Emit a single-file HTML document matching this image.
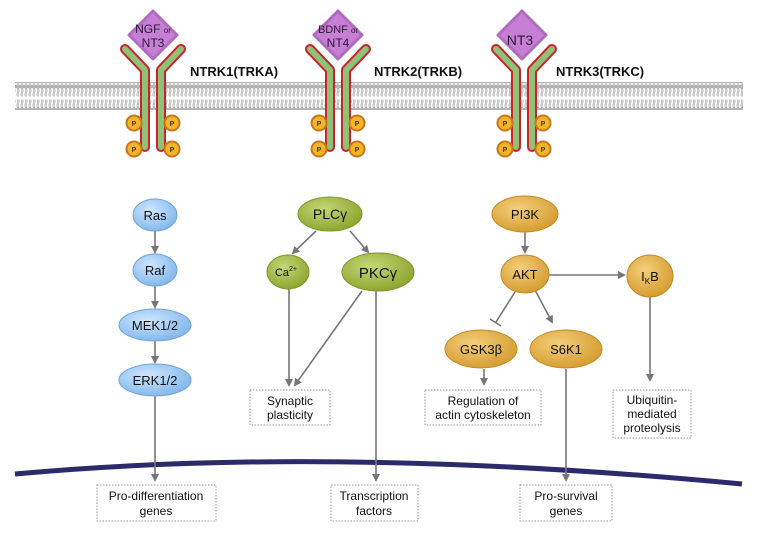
<!DOCTYPE html>
<html><head><meta charset="utf-8"><style>
body{margin:0;background:#fff;}
svg{display:block;font-family:"Liberation Sans",Arial,sans-serif;}
</style></head><body>
<svg width="758" height="537" viewBox="0 0 758 537" xmlns="http://www.w3.org/2000/svg">
<defs>
<pattern id="lip" x="0" y="0" width="4" height="28" patternUnits="userSpaceOnUse">
<circle cx="2" cy="2.5" r="2" fill="#b8b8b8" stroke="#999" stroke-width="0.4"/>
<path d="M1.4,4.5 q1,2 0,4 q-1,2 0,4 M2.6,4.5 q1,2 0,4 q-1,2 0,4" stroke="#a8a8a8" stroke-width="0.7" fill="none"/>
<path d="M1.4,15.5 q1,2 0,4 q-1,2 0,4 M2.6,15.5 q1,2 0,4 q-1,2 0,4" stroke="#a8a8a8" stroke-width="0.7" fill="none"/>
<circle cx="2" cy="25.5" r="2" fill="#b8b8b8" stroke="#999" stroke-width="0.4"/>
</pattern>
<marker id="ar" markerWidth="8" markerHeight="8" refX="6" refY="4" orient="auto" markerUnits="userSpaceOnUse">
<path d="M0,0 L8,4 L0,8 z" fill="#77757a"/>
</marker>
<radialGradient id="gb" cx="40%" cy="35%" r="70%"><stop offset="0" stop-color="#cfe6ff"/><stop offset="1" stop-color="#7fb5ea"/></radialGradient>
<radialGradient id="gg" cx="40%" cy="35%" r="70%"><stop offset="0" stop-color="#c6d676"/><stop offset="1" stop-color="#8aa32c"/></radialGradient>
<radialGradient id="go" cx="40%" cy="35%" r="70%"><stop offset="0" stop-color="#f3cf7a"/><stop offset="1" stop-color="#d49a2e"/></radialGradient>
<g id="rec">
<path d="M-28,-46 L-8,-25 L-8,52 M28,-46 L8,-25 L8,52" fill="none" stroke="#c8252b" stroke-width="10" stroke-linejoin="round" stroke-linecap="round"/>
<path d="M-28,-46 L-8,-25 L-8,52 M28,-46 L8,-25 L8,52" fill="none" stroke="#8fc177" stroke-width="6" stroke-linejoin="round" stroke-linecap="round"/>
<g font-size="7" font-weight="bold" text-anchor="middle" fill="#5a3000">
<circle cx="-19" cy="28" r="7.5" fill="#f1b52c" stroke="#c9771a" stroke-width="2"/><text x="-19" y="31">P</text>
<circle cx="19" cy="28" r="7.5" fill="#f1b52c" stroke="#c9771a" stroke-width="2"/><text x="19" y="31">P</text>
<circle cx="-19" cy="54" r="7.5" fill="#f1b52c" stroke="#c9771a" stroke-width="2"/><text x="-19" y="57">P</text>
<circle cx="19" cy="54" r="7.5" fill="#f1b52c" stroke="#c9771a" stroke-width="2"/><text x="19" y="57">P</text>
</g>
</g>
<path id="dia" d="M0,-24 L24,0 L0,24 L-24,0 Z" fill="#c77fd6" stroke="#b06ac2" stroke-width="3" stroke-linejoin="round"/>
</defs>

<rect x="15" y="82" width="728" height="28" fill="url(#lip)"/>

<!-- receptors -->
<use href="#rec" x="153" y="95"/>
<use href="#rec" x="338" y="95"/>
<use href="#rec" x="524" y="95"/>
<use href="#dia" x="153" y="35"/>
<use href="#dia" x="338" y="35"/>
<use href="#dia" x="522" y="35"/>
<g fill="#2a1a30" text-anchor="middle">
<text x="153" y="33" font-size="12">NGF <tspan font-size="8">or</tspan></text>
<text x="153" y="47" font-size="12">NT3</text>
<text x="338" y="33" font-size="11">BDNF <tspan font-size="8">or</tspan></text>
<text x="338" y="47" font-size="12">NT4</text>
<text x="520" y="45" font-size="14">NT3</text>
</g>
<g font-size="13" font-weight="bold" fill="#111">
<text x="190" y="76">NTRK1(TRKA)</text>
<text x="374" y="76">NTRK2(TRKB)</text>
<text x="556" y="76">NTRK3(TRKC)</text>
</g>

<!-- nuclear membrane -->
<path d="M15,474 Q330,445 742,484" fill="none" stroke="#2c2a6b" stroke-width="5"/>

<!-- connectors -->
<g stroke="#77757a" stroke-width="1.6" fill="none" marker-end="url(#ar)">
<line x1="155" y1="231" x2="155" y2="252"/>
<line x1="155" y1="286" x2="155" y2="307"/>
<line x1="155" y1="341" x2="155" y2="362"/>
<line x1="155" y1="396" x2="155" y2="480"/>
<line x1="316" y1="231" x2="293" y2="253"/>
<line x1="350" y1="231" x2="368" y2="252"/>
<line x1="289" y1="289" x2="289" y2="385"/>
<line x1="362" y1="291" x2="295" y2="385"/>
<line x1="376" y1="291" x2="376" y2="480"/>
<line x1="525" y1="232" x2="525" y2="252"/>
<line x1="548" y1="275" x2="624" y2="275"/>
<line x1="535" y1="290" x2="552" y2="322"/>
<line x1="484" y1="369" x2="484" y2="384"/>
<line x1="566" y1="369" x2="566" y2="480"/>
<line x1="650" y1="297" x2="650" y2="380"/>
</g>
<g stroke="#77757a" stroke-width="1.6">
<line x1="515" y1="292" x2="496" y2="322"/>
<line x1="490" y1="319" x2="501" y2="326"/>
</g>

<!-- nodes -->
<g stroke-width="1">
<ellipse cx="155" cy="215" rx="22" ry="16" fill="url(#gb)" stroke="#6fa4d8"/>
<ellipse cx="155" cy="270" rx="22" ry="16" fill="url(#gb)" stroke="#6fa4d8"/>
<ellipse cx="155" cy="325" rx="36" ry="16" fill="url(#gb)" stroke="#6fa4d8"/>
<ellipse cx="155" cy="380" rx="36" ry="16" fill="url(#gb)" stroke="#6fa4d8"/>
<ellipse cx="330" cy="214" rx="32" ry="17" fill="url(#gg)" stroke="#7f962a"/>
<ellipse cx="288" cy="272" rx="21" ry="17" fill="url(#gg)" stroke="#7f962a"/>
<ellipse cx="378" cy="272" rx="36" ry="19" fill="url(#gg)" stroke="#7f962a"/>
<ellipse cx="525" cy="214" rx="33" ry="18" fill="url(#go)" stroke="#c48a25"/>
<ellipse cx="525" cy="274" rx="24" ry="19" fill="url(#go)" stroke="#c48a25"/>
<ellipse cx="650" cy="276" rx="23" ry="21" fill="url(#go)" stroke="#c48a25"/>
<ellipse cx="481" cy="349" rx="36" ry="19" fill="url(#go)" stroke="#c48a25"/>
<ellipse cx="566" cy="349" rx="36" ry="19" fill="url(#go)" stroke="#c48a25"/>
</g>
<g font-size="13" text-anchor="middle" fill="#111">
<text x="155" y="220">Ras</text>
<text x="155" y="275">Raf</text>
<text x="155" y="330">MEK1/2</text>
<text x="155" y="385">ERK1/2</text>
<text x="330" y="219" font-size="14">PLCγ</text>
<text x="286" y="276" font-size="11">Ca<tspan font-size="7" dy="-5">2+</tspan></text>
<text x="378" y="278" font-size="15">PKCγ</text>
<text x="525" y="219">PI3K</text>
<text x="525" y="279">AKT</text>
<text x="650" y="281">I<tspan font-size="8" dy="3">K</tspan><tspan dy="-3">B</tspan></text>
<text x="481" y="354">GSK3β</text>
<text x="566" y="354">S6K1</text>
</g>

<!-- boxes -->
<g fill="#fff" stroke="#999" stroke-width="1" stroke-dasharray="1.5,1.5">
<rect x="97" y="485" width="119" height="36"/>
<rect x="250" y="390" width="80" height="35"/>
<rect x="331" y="485" width="87" height="36"/>
<rect x="425" y="390" width="116" height="35"/>
<rect x="520" y="485" width="92" height="36"/>
<rect x="613" y="390" width="78" height="48"/>
</g>
<g font-size="12" text-anchor="middle" fill="#111">
<text x="156" y="500">Pro-differentiation</text><text x="156" y="515">genes</text>
<text x="290" y="405">Synaptic</text><text x="290" y="419">plasticity</text>
<text x="374" y="500">Transcription</text><text x="374" y="515">factors</text>
<text x="483" y="405">Regulation of</text><text x="483" y="419">actin cytoskeleton</text>
<text x="566" y="500">Pro-survival</text><text x="566" y="515">genes</text>
<text x="652" y="404">Ubiquitin-</text><text x="652" y="418">mediated</text><text x="652" y="432">proteolysis</text>
</g>
</svg>
</body></html>
